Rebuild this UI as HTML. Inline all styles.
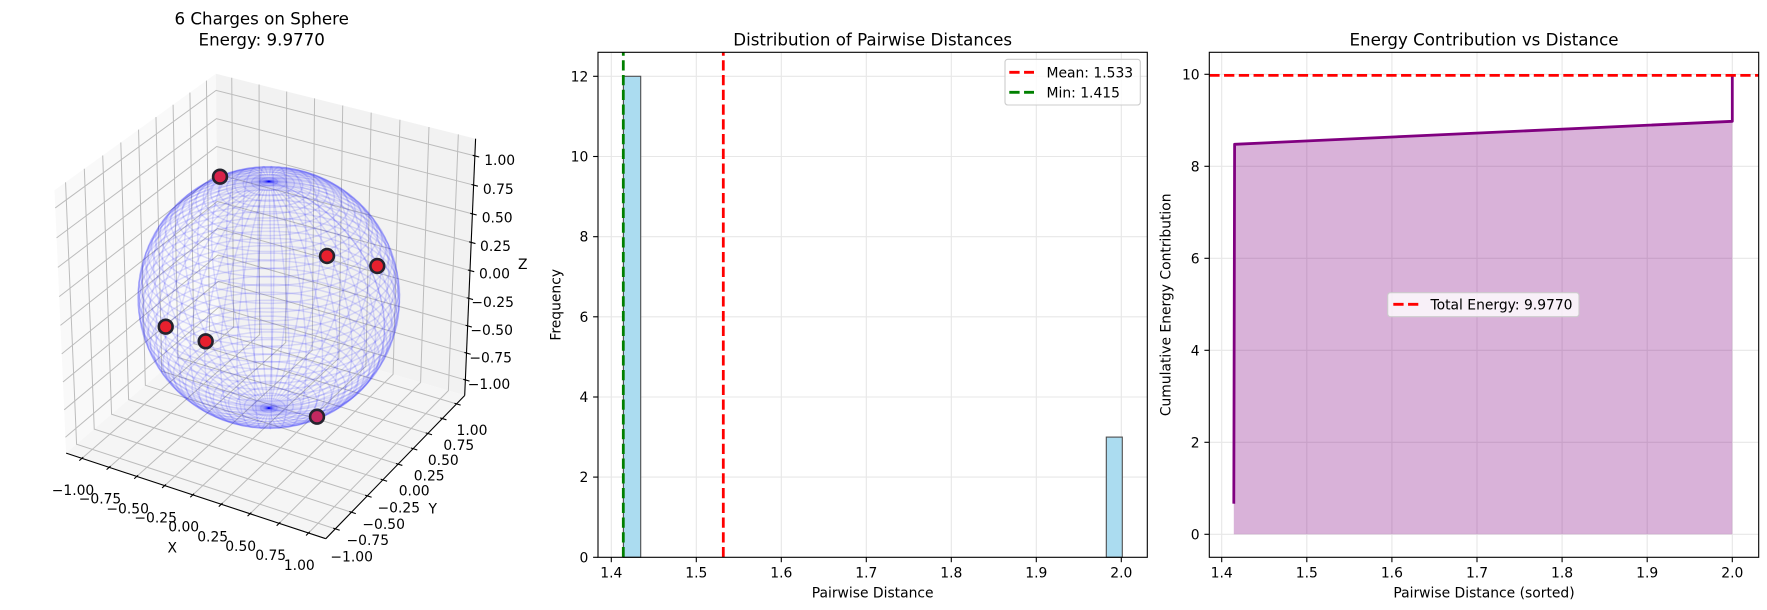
<!DOCTYPE html>
<html><head><meta charset="utf-8"><style>
html,body{margin:0;padding:0;background:#fff;}
svg{display:block;}
text{font-family:"DejaVu Sans","Liberation Sans",sans-serif;fill:#000;}
</style></head><body>
<svg id="s" width="1767" height="610" viewBox="0 0 1767 610" xmlns="http://www.w3.org/2000/svg">
<rect width="1767" height="610" fill="#fff"/>

<!-- ============ LEFT 3D PLOT ============ -->
<polygon points="66.1,453.1 218.6,322.6 215.9,73.8 54.5,190.3" fill="#f9f9f9"/>
<polygon points="218.6,322.6 464.7,395.4 475.6,138.7 215.9,73.8" fill="#f2f2f2"/>
<polygon points="66.1,453.1 325.8,538.7 464.7,395.4 218.6,322.6" fill="#f5f5f5"/>
<g id="g3dgrid"></g>
<g id="g3daxis"></g>
<g id="g3dwire"></g>
<g id="markers" stroke="#24242e" stroke-width="2.6">
<circle cx="220" cy="176.7" r="6.9" fill="#d8234a"/>
<circle cx="327" cy="256" r="6.9" fill="#e8202e"/>
<circle cx="377.3" cy="266" r="6.9" fill="#e8202e"/>
<circle cx="165.7" cy="326.7" r="6.9" fill="#e8202e"/>
<circle cx="205.7" cy="341.3" r="6.9" fill="#e8202e"/>
<circle cx="317" cy="416.7" r="6.9" fill="#c22860"/>
</g>
<g font-size="16.67" text-anchor="middle">
<text x="261.7" y="24.5">6 Charges on Sphere</text>
<text x="261.7" y="45.5">Energy: 9.9770</text>
</g>
<g font-size="13.89" text-anchor="middle">
<!-- X ticks -->
<text x="73" y="495">−1.00</text>
<text x="100" y="503.3">−0.75</text>
<text x="127.7" y="513.3">−0.50</text>
<text x="155.7" y="522.7">−0.25</text>
<text x="183.7" y="531.7">0.00</text>
<text x="212.7" y="541.7">0.25</text>
<text x="240.7" y="551">0.50</text>
<text x="270.7" y="560">0.75</text>
<text x="299.3" y="570">1.00</text>
<text x="172.3" y="552.7">X</text>
<!-- Y ticks -->
<text x="472" y="435">1.00</text>
<text x="458.8" y="450">0.75</text>
<text x="443.3" y="465">0.50</text>
<text x="429.2" y="480.3">0.25</text>
<text x="414.2" y="495.7">0.00</text>
<text x="398.8" y="512.3">−0.25</text>
<text x="383.7" y="529">−0.50</text>
<text x="367.8" y="545">−0.75</text>
<text x="351.7" y="561.7">−1.00</text>
<text x="432.7" y="513.3">Y</text>
<!-- Z ticks -->
<text x="499.7" y="165">1.00</text>
<text x="498.3" y="194">0.75</text>
<text x="497.2" y="222.7">0.50</text>
<text x="495.5" y="251">0.25</text>
<text x="494.5" y="278.3">0.00</text>
<text x="492.7" y="307">−0.25</text>
<text x="491.7" y="335">−0.50</text>
<text x="490.7" y="362.3">−0.75</text>
<text x="489" y="389">−1.00</text>
<text x="522.7" y="269">Z</text>
</g>

<!-- ============ MIDDLE HISTOGRAM ============ -->
<g stroke="#e7e7e7" stroke-width="1.1">
<line x1="611.3" y1="52.3" x2="611.3" y2="557.3"/>
<line x1="696.3" y1="52.3" x2="696.3" y2="557.3"/>
<line x1="781.3" y1="52.3" x2="781.3" y2="557.3"/>
<line x1="866.3" y1="52.3" x2="866.3" y2="557.3"/>
<line x1="951.3" y1="52.3" x2="951.3" y2="557.3"/>
<line x1="1036.3" y1="52.3" x2="1036.3" y2="557.3"/>
<line x1="1121.3" y1="52.3" x2="1121.3" y2="557.3"/>
<line x1="598" y1="477.1" x2="1147.3" y2="477.1"/>
<line x1="598" y1="397" x2="1147.3" y2="397"/>
<line x1="598" y1="316.8" x2="1147.3" y2="316.8"/>
<line x1="598" y1="236.7" x2="1147.3" y2="236.7"/>
<line x1="598" y1="156.5" x2="1147.3" y2="156.5"/>
<line x1="598" y1="76.3" x2="1147.3" y2="76.3"/>
</g>
<rect x="623.4" y="76.3" width="17.3" height="481" fill="#abdcf0" stroke="#4d4d4d" stroke-width="1.1"/>
<rect x="1106.3" y="437.1" width="16" height="120.2" fill="#abdcf0" stroke="#4d4d4d" stroke-width="1.1"/>
<line x1="723.3" y1="557.3" x2="723.3" y2="52.3" stroke="#ff0000" stroke-width="2.78" stroke-dasharray="10.3,4.45"/>
<line x1="623.3" y1="557.3" x2="623.3" y2="52.3" stroke="#008000" stroke-width="2.78" stroke-dasharray="10.3,4.45"/>
<rect x="1005" y="59.3" width="135.3" height="45.7" rx="2.8" fill="#fff" fill-opacity="0.8" stroke="#cccccc" stroke-width="1.1"/>
<line x1="1009.3" y1="72.3" x2="1034" y2="72.3" stroke="#ff0000" stroke-width="2.78" stroke-dasharray="10.3,4.45"/>
<line x1="1009.3" y1="92.3" x2="1034" y2="92.3" stroke="#008000" stroke-width="2.78" stroke-dasharray="10.3,4.45"/>
<g font-size="13.89">
<text x="1046.5" y="77.3">Mean: 1.533</text>
<text x="1046.5" y="97.3">Min: 1.415</text>
</g>
<rect x="598" y="52.3" width="549.3" height="505" fill="none" stroke="#000" stroke-width="1.1"/>
<g stroke="#000" stroke-width="1.1">
<line x1="611.3" y1="557.3" x2="611.3" y2="562.2"/>
<line x1="696.3" y1="557.3" x2="696.3" y2="562.2"/>
<line x1="781.3" y1="557.3" x2="781.3" y2="562.2"/>
<line x1="866.3" y1="557.3" x2="866.3" y2="562.2"/>
<line x1="951.3" y1="557.3" x2="951.3" y2="562.2"/>
<line x1="1036.3" y1="557.3" x2="1036.3" y2="562.2"/>
<line x1="1121.3" y1="557.3" x2="1121.3" y2="562.2"/>
<line x1="593.1" y1="557.3" x2="598" y2="557.3"/>
<line x1="593.1" y1="477.1" x2="598" y2="477.1"/>
<line x1="593.1" y1="397" x2="598" y2="397"/>
<line x1="593.1" y1="316.8" x2="598" y2="316.8"/>
<line x1="593.1" y1="236.7" x2="598" y2="236.7"/>
<line x1="593.1" y1="156.5" x2="598" y2="156.5"/>
<line x1="593.1" y1="76.3" x2="598" y2="76.3"/>
</g>
<g font-size="13.89" text-anchor="middle">
<text x="611.3" y="577.7">1.4</text>
<text x="696.3" y="577.7">1.5</text>
<text x="781.3" y="577.7">1.6</text>
<text x="866.3" y="577.7">1.7</text>
<text x="951.3" y="577.7">1.8</text>
<text x="1036.3" y="577.7">1.9</text>
<text x="1121.3" y="577.7">2.0</text>
<text x="872.65" y="597.5">Pairwise Distance</text>
<text transform="translate(560.7,304.8) rotate(-90)" x="0" y="0">Frequency</text>
</g>
<g font-size="13.89" text-anchor="end">
<text x="588.3" y="562.3">0</text>
<text x="588.3" y="482.1">2</text>
<text x="588.3" y="402">4</text>
<text x="588.3" y="321.8">6</text>
<text x="588.3" y="241.7">8</text>
<text x="588.3" y="161.5">10</text>
<text x="588.3" y="81.3">12</text>
</g>
<text x="872.65" y="45.5" font-size="16.67" text-anchor="middle">Distribution of Pairwise Distances</text>

<!-- ============ RIGHT PLOT ============ -->
<g stroke="#e7e7e7" stroke-width="1.1">
<line x1="1221.7" y1="52.3" x2="1221.7" y2="557.3"/>
<line x1="1306.8" y1="52.3" x2="1306.8" y2="557.3"/>
<line x1="1391.9" y1="52.3" x2="1391.9" y2="557.3"/>
<line x1="1477" y1="52.3" x2="1477" y2="557.3"/>
<line x1="1562.1" y1="52.3" x2="1562.1" y2="557.3"/>
<line x1="1647.2" y1="52.3" x2="1647.2" y2="557.3"/>
<line x1="1732.3" y1="52.3" x2="1732.3" y2="557.3"/>
<line x1="1209.3" y1="534.3" x2="1758.7" y2="534.3"/>
<line x1="1209.3" y1="442.3" x2="1758.7" y2="442.3"/>
<line x1="1209.3" y1="350.3" x2="1758.7" y2="350.3"/>
<line x1="1209.3" y1="258.3" x2="1758.7" y2="258.3"/>
<line x1="1209.3" y1="166.3" x2="1758.7" y2="166.3"/>
<line x1="1209.3" y1="74.3" x2="1758.7" y2="74.3"/>
</g>
<polygon points="1233.8,534.3 1233.8,502.3 1234.6,144.3 1732.3,121.3 1732.3,534.3" fill="#800080" fill-opacity="0.3"/>
<polyline points="1233.8,502.3 1234.6,144.3 1732.3,121.3 1732.3,75.4" fill="none" stroke="#800080" stroke-width="2.78" stroke-linejoin="round" stroke-linecap="square"/>
<line x1="1209.3" y1="75.4" x2="1758.7" y2="75.4" stroke="#ff0000" stroke-width="2.78" stroke-dasharray="10.3,4.45"/>
<rect x="1387.7" y="292.7" width="191.3" height="24" rx="2.8" fill="#fff" fill-opacity="0.8" stroke="#cccccc" stroke-width="1.1"/>
<line x1="1393.3" y1="304.3" x2="1418.3" y2="304.3" stroke="#ff0000" stroke-width="2.78" stroke-dasharray="10.3,4.45"/>
<text x="1430.5" y="309.3" font-size="13.89">Total Energy: 9.9770</text>
<rect x="1209.3" y="52.3" width="549.4" height="505" fill="none" stroke="#000" stroke-width="1.1"/>
<g stroke="#000" stroke-width="1.1">
<line x1="1221.7" y1="557.3" x2="1221.7" y2="562.2"/>
<line x1="1306.8" y1="557.3" x2="1306.8" y2="562.2"/>
<line x1="1391.9" y1="557.3" x2="1391.9" y2="562.2"/>
<line x1="1477" y1="557.3" x2="1477" y2="562.2"/>
<line x1="1562.1" y1="557.3" x2="1562.1" y2="562.2"/>
<line x1="1647.2" y1="557.3" x2="1647.2" y2="562.2"/>
<line x1="1732.3" y1="557.3" x2="1732.3" y2="562.2"/>
<line x1="1204.4" y1="534.3" x2="1209.3" y2="534.3"/>
<line x1="1204.4" y1="442.3" x2="1209.3" y2="442.3"/>
<line x1="1204.4" y1="350.3" x2="1209.3" y2="350.3"/>
<line x1="1204.4" y1="258.3" x2="1209.3" y2="258.3"/>
<line x1="1204.4" y1="166.3" x2="1209.3" y2="166.3"/>
<line x1="1204.4" y1="74.3" x2="1209.3" y2="74.3"/>
</g>
<g font-size="13.89" text-anchor="middle">
<text x="1221.7" y="577.7">1.4</text>
<text x="1306.8" y="577.7">1.5</text>
<text x="1391.9" y="577.7">1.6</text>
<text x="1477" y="577.7">1.7</text>
<text x="1562.1" y="577.7">1.8</text>
<text x="1647.2" y="577.7">1.9</text>
<text x="1732.3" y="577.7">2.0</text>
<text x="1484" y="597.5">Pairwise Distance (sorted)</text>
<text transform="translate(1170.7,304.8) rotate(-90)" x="0" y="0">Cumulative Energy Contribution</text>
</g>
<g font-size="13.89" text-anchor="end">
<text x="1199.6" y="539.3">0</text>
<text x="1199.6" y="447.3">2</text>
<text x="1199.6" y="355.3">4</text>
<text x="1199.6" y="263.3">6</text>
<text x="1199.6" y="171.3">8</text>
<text x="1199.6" y="79.3">10</text>
</g>
<text x="1484" y="45.5" font-size="16.67" text-anchor="middle">Energy Contribution vs Distance</text>
</svg>

<script>
(function(){
var NS='http://www.w3.org/2000/svg';
var L=1.1, EB=1.1+2.2/48, A=1.8294640721620434/Math.sqrt(3), R=A/2;
var el=Math.PI/6, az=-Math.PI/3;
var w=[Math.cos(el)*Math.cos(az),Math.cos(el)*Math.sin(az),Math.sin(el)];
var eye=[R+10*w[0],R+10*w[1],R+10*w[2]];
var u=[-w[1],w[0],0]; var n=Math.hypot(u[0],u[1]); u=[u[0]/n,u[1]/n,0];
var v=[w[1]*u[2]-w[2]*u[1], w[2]*u[0]-w[0]*u[2], w[0]*u[1]-w[1]*u[0]];
var S=2724, TX=268.8, TY=297.5;
function P(x,y,z){
  var p=[(x+L)/(2*L)*A-eye[0],(y+L)/(2*L)*A-eye[1],(z+L)/(2*L)*A-eye[2]];
  var dz=-(w[0]*p[0]+w[1]*p[1]+w[2]*p[2]);
  return [TX+S*(u[0]*p[0]+u[1]*p[1]+u[2]*p[2])/dz, TY-S*(v[0]*p[0]+v[1]*p[1]+v[2]*p[2])/dz];
}
function line(g,pts,attrs){
  var e=document.createElementNS(NS,'polyline');
  e.setAttribute('points',pts.map(function(q){return q[0].toFixed(2)+','+q[1].toFixed(2);}).join(' '));
  e.setAttribute('fill','none');
  for(var k in attrs) e.setAttribute(k,attrs[k]);
  g.appendChild(e);
}
var gg=document.getElementById('g3dgrid');
var ga=document.getElementById('g3daxis');
var gw=document.getElementById('g3dwire');
var ga_=  {stroke:'#bcbcbc','stroke-width':'1'};
for(var i=0;i<9;i++){
  var t=-1+0.25*i;
  line(gg,[P(t,-EB,-EB),P(t,EB,-EB),P(t,EB,EB)],ga_);
  line(gg,[P(EB,t,-EB),P(-EB,t,-EB),P(-EB,t,EB)],ga_);
  line(gg,[P(-EB,-EB,t),P(-EB,EB,t),P(EB,EB,t)],ga_);
}
var ax={stroke:'#000','stroke-width':'1.1'};
line(ga,[P(-EB,-EB,-EB),P(EB,-EB,-EB)],ax);
line(ga,[P(EB,-EB,-EB),P(EB,EB,-EB)],ax);
line(ga,[P(EB,EB,-EB),P(EB,EB,EB)],ax);
var tin=0.0183, tout=0.0367;
for(var i=0;i<9;i++){
  var t=-1+0.25*i;
  line(ga,[P(t,-EB+tin,-EB),P(t,-EB-tout,-EB)],ax);
  line(ga,[P(EB-tin,t,-EB),P(EB+tout,t,-EB)],ax);
  line(ga,[P(EB-tin,EB,t),P(EB+tout,EB,t)],ax);
}
var N=50, wa={stroke:'#0000ff','stroke-opacity':'0.12','stroke-width':'1.5'};
for(var i=0;i<N;i++){
  var uu=2*Math.PI*i/(N-1), pts=[];
  for(var j=0;j<N;j++){var vv=Math.PI*j/(N-1);pts.push(P(Math.cos(uu)*Math.sin(vv),Math.sin(uu)*Math.sin(vv),Math.cos(vv)));}
  line(gw,pts,wa);
}
for(var j=1;j<N-1;j++){
  var vv=Math.PI*j/(N-1), pts=[];
  for(var i=0;i<N;i++){var uu=2*Math.PI*i/(N-1);pts.push(P(Math.cos(uu)*Math.sin(vv),Math.sin(uu)*Math.sin(vv),Math.cos(vv)));}
  line(gw,pts,wa);
}
})();
</script>
</body></html>
